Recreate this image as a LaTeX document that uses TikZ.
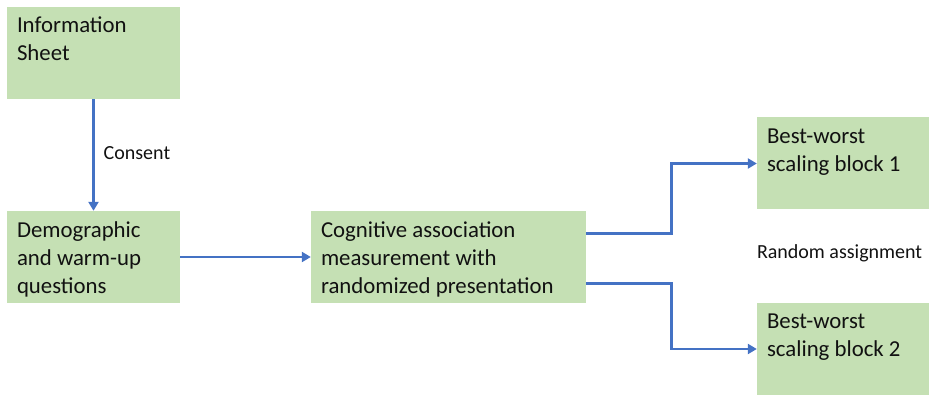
\documentclass[tikz,border=0pt]{standalone}
\usepackage{fontspec}
\setmainfont{Carlito}
\usetikzlibrary{arrows.meta,calc}
\definecolor{boxgreen}{HTML}{C5E0B4}
\definecolor{flowblue}{HTML}{4472C4}
\definecolor{inktext}{HTML}{111111}
\begin{document}
\begin{tikzpicture}[x=1pt,y=-1pt,
  stage/.style={draw=none, fill=boxgreen, minimum width=#1, minimum height=92pt, inner sep=0pt},
  stagetext/.style={anchor=north west, inner sep=0pt, align=left, text=inktext,
    font=\fontsize{22.8}{28}\selectfont},
  note/.style={inner sep=0pt, text=inktext, font=\fontsize{20}{24}\selectfont},
  flow/.style={draw=flowblue, line width=2.8pt, -{Triangle[length=9pt,width=10pt]}}]
\useasboundingbox (0,0) rectangle (931,395);

% stage boxes
\node[stage=173pt] (info) at (93.5,53) {};
\node[stage=173pt] (demo) at (93.5,257) {};
\node[stage=275pt] (cog)  at (448.5,257) {};
\node[stage=172pt] (bw1)  at (843,163.5) {};
\node[stage=172pt] (bw2)  at (843,349) {};

% box captions, set from the top-left corner of each box
\node[stagetext] (infot) at ($(info.north west)+(10,6)$) {\strut Information\\Sheet};
\node[stagetext] (demot) at ($(demo.north west)+(10,7)$) {\strut Demographic\\and warm-up\\questions};
\node[stagetext] (cogt)  at ($(cog.north west)+(10,7)$) {\strut Cognitive association\\measurement with\\randomized presentation};
\node[stagetext] (bw1t)  at ($(bw1.north west)+(10,6)$) {\strut Best-worst\\scaling block 1};
\node[stagetext] (bw2t)  at ($(bw2.north west)+(10,6)$) {\strut Best-worst\\scaling block 2};

% connectors
\draw[flow] (info.south) -- (demo.north);
\draw[flow] (demo.east) -- (cog.west);
\coordinate (splitup) at ($(cog.north east)+(0,23)$);
\coordinate (splitdown) at ($(cog.south east)+(0,-20)$);
\draw[flow] (splitup) -- ++(85,0) |- (bw1.west);
\draw[flow] (splitdown) -- ++(85,0) |- (bw2.west);

% connector notes
\node[note, anchor=west] (consent) at ($(info.south)!0.5!(demo.north)+(10,-2)$) {Consent};
\node[note, anchor=west] (random) at ($(bw1.south west)!0.5!(bw2.north west)+(0,-3)$) {Random assignment};
\end{tikzpicture}
\end{document}
